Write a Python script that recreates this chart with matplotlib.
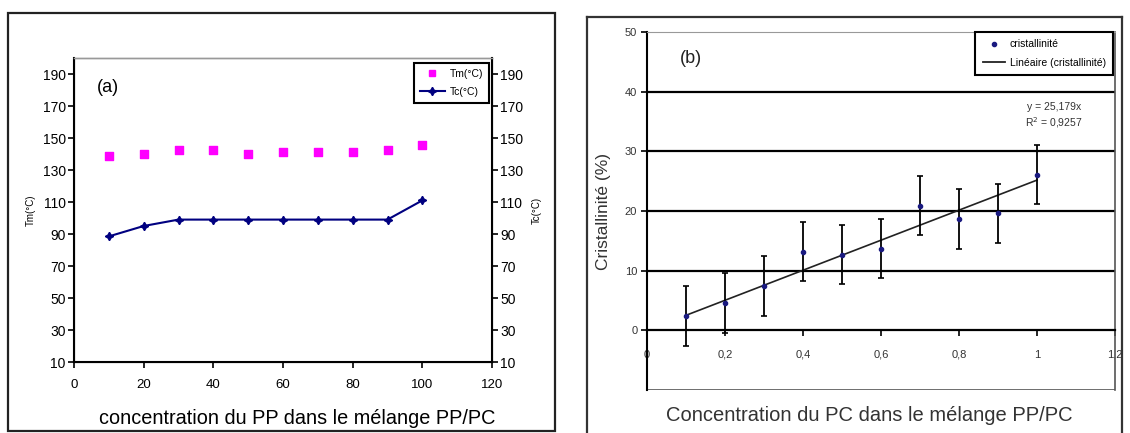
import numpy as np
import matplotlib
matplotlib.use("Agg")
import matplotlib.pyplot as plt
from matplotlib.lines import Line2D

plt.rcParams['font.family'] = ['Liberation Sans', 'DejaVu Sans']

# (a) melting / crystallisation temperatures vs PP content
pp_conc = [10, 20, 30, 40, 50, 60, 70, 80, 90, 100]
tm = [139, 140, 142.5, 142.5, 140, 141.5, 141.5, 141, 142.5, 145.5]
tc = [88.5, 95, 99, 99, 99, 99, 99, 99, 99, 111]
temp_ticks = [10, 30, 50, 70, 90, 110, 130, 150, 170, 190]
pp_ticks = [0, 20, 40, 60, 80, 100, 120]

# (b) crystallinity vs PC content
pc_conc = [0.1, 0.2, 0.3, 0.4, 0.5, 0.6, 0.7, 0.8, 0.9, 1.0]
crist = [2.4, 4.6, 7.4, 13.2, 12.7, 13.7, 20.9, 18.7, 19.6, 26.1]
crist_err = [5, 5, 5, 5, 5, 5, 5, 5, 5, 5]
slope = 25.179
r2 = 0.9257
crist_ticks = [0, 10, 20, 30, 40, 50]
pc_ticks = [0, 0.2, 0.4, 0.6, 0.8, 1, 1.2]
pc_labels = ["0", "0,2", "0,4", "0,6", "0,8", "1", "1,2"]

W, H = 1130, 433
fig = plt.figure(figsize=(W / 100, H / 100), dpi=100)


def px(x0, y0, x1, y1):
    # pixel box (top-left origin) -> figure fraction rect
    return [x0 / W, 1 - y1 / H, (x1 - x0) / W, (y1 - y0) / H]


# outer frames
fig.add_artist(plt.Rectangle((8 / W, 1 - 431 / H), 547 / W, 418 / H,
                             transform=fig.transFigure, fill=False, ec="#222222", lw=1.6))
for xs, ys in [([587, 587], [17, 433]), ([587, 1122], [17, 17]), ([1122, 1122], [17, 433])]:
    fig.add_artist(Line2D([x / W for x in xs], [1 - y / H for y in ys],
                          transform=fig.transFigure, color="#333333", lw=1.6))

# ---------------- panel (a)
ax = fig.add_axes(px(74, 58, 492, 362))
ax.scatter(pp_conc, tm, marker="s", s=26, color="#ff00ff", zorder=3)
ax2 = ax.twinx()
ax2.plot(pp_conc, tc, color="#000080", lw=1.5, marker=(4, 1, 0), ms=6, zorder=3)
for a in (ax, ax2):
    a.set_ylim(10, 200)
    a.set_yticks(temp_ticks)
ax.set_xlim(0, 120)
ax.set_xticks(pp_ticks)
ax.tick_params(axis="both", direction="out", length=4, width=1.2, labelsize=10, pad=2)
ax2.tick_params(axis="y", direction="out", length=4, width=1.2, labelsize=10, pad=2)
ax.tick_params(axis="x", labelsize=9.5, pad=8)
for s in ("left", "bottom"):
    ax.spines[s].set_linewidth(1.5)
ax2.spines["right"].set_linewidth(1.5)
for a in (ax, ax2):
    a.spines["top"].set_color("#999999")
    a.spines["top"].set_linewidth(1.0)
ax.set_ylabel("Tm(°C)", fontsize=7, labelpad=5)
ax2.set_ylabel("Tc(°C)", fontsize=7, labelpad=6)
ax.set_xlabel("concentration du PP dans le mélange PP/PC", fontsize=14.3)
ax.xaxis.set_label_coords(0.533, -0.155)
ax.text(0.055, 0.93, "(a)", transform=ax.transAxes, fontsize=13, va="top")

h_tm = Line2D([], [], ls="none", marker="s", ms=5, color="#ff00ff")
h_tc = Line2D([], [], color="#000080", lw=1.5, marker=(4, 1, 0), ms=6)
leg = ax2.legend([h_tm, h_tc], ["Tm(°C)", "Tc(°C)"], loc="upper right",
                 bbox_to_anchor=(489 / W, 1 - 63 / H), bbox_transform=fig.transFigure,
                 fontsize=7.5, fancybox=False, framealpha=1, edgecolor="black",
                 handlelength=2.4, borderpad=0.55, labelspacing=0.8, handletextpad=0.5,
                 borderaxespad=0)
leg.get_frame().set_linewidth(1.5)

# ---------------- panel (b)
bx = fig.add_axes(px(647, 32, 1115, 390))
for yv in crist_ticks[1:-1]:
    bx.axhline(yv, color="black", lw=1.6, zorder=1)
bx.axhline(-10, color="#555555", lw=1.2, zorder=1)
xfit = np.array([pc_conc[0], pc_conc[-1]])
bx.plot(xfit, slope * xfit, color="#222222", lw=1.2, zorder=2)
bx.errorbar(pc_conc, crist, yerr=crist_err, fmt="o", ms=3, color="#1a1a80",
            ecolor="black", elinewidth=1.3, capsize=2.5, capthick=1.2, zorder=3)
bx.set_xlim(0, 1.2)
bx.set_ylim(-10, 50)
bx.set_yticks(crist_ticks)
bx.set_xticks(pc_ticks)
bx.set_xticklabels(pc_labels)
bx.spines["bottom"].set_position(("data", 0))
bx.spines["bottom"].set_linewidth(1.6)
bx.spines["left"].set_linewidth(1.5)
bx.spines["top"].set_color("#999999")
bx.spines["right"].set_color("#555555")
bx.spines["right"].set_linewidth(1.2)
bx.tick_params(axis="both", direction="out", length=4, width=1.2, labelsize=8,
               labelcolor="#333333", pad=3)
bx.tick_params(axis="x", pad=10)
bx.set_ylabel("Cristallinité (%)", fontsize=12.5, color="#333333", labelpad=10)
bx.set_xlabel("Concentration du PC dans le mélange PP/PC", fontsize=14.5,
              color="#333333", labelpad=2)
bx.xaxis.set_label_coords(0.474, -0.045)
bx.text(0.07, 0.95, "(b)", transform=bx.transAxes, fontsize=13, va="top", color="#222222")
bx.text(0.87, 0.765, "y = 25,179x\nR$^2$ = 0,9257", transform=bx.transAxes,
        fontsize=7.5, ha="center", va="center", color="#333333", linespacing=1.3)

h_pt = Line2D([], [], ls="none", marker="o", ms=3, color="#1a1a80")
h_ln = Line2D([], [], color="#222222", lw=1.3)
leg_b = bx.legend([h_pt, h_ln], ["cristallinité", "Linéaire (cristallinité)"],
                  loc="upper right", bbox_to_anchor=(1113 / W, 1 - 32 / H),
                  bbox_transform=fig.transFigure, fontsize=7.5, fancybox=False,
                  framealpha=1, edgecolor="black", handlelength=2.2,
                  borderpad=0.7, labelspacing=0.8, handletextpad=0.4, borderaxespad=0)
leg_b.get_frame().set_linewidth(1.5)

fig.savefig("out.png", dpi=100)
